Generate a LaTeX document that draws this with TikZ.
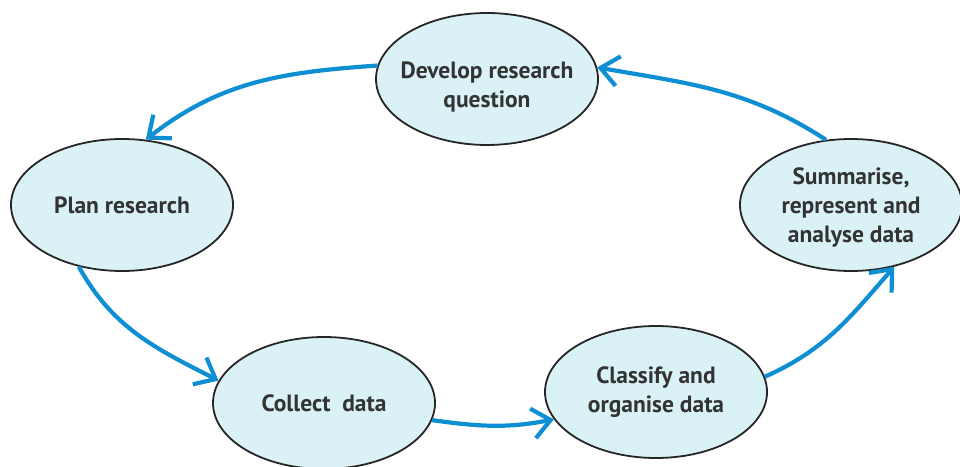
\documentclass[tikz,border=0pt]{standalone}
\usepackage{fontspec}
\setmainfont{PT Sans}
\usetikzlibrary{arrows.meta,shapes.geometric}
\definecolor{cyAccent}{HTML}{0E8FD3}
\definecolor{cyFill}{HTML}{DAF1F6}
\definecolor{cyText}{HTML}{333333}

\begin{document}
\begin{tikzpicture}[x=1pt,y=1pt,
  stage/.style={ellipse,draw=black!85,line width=1.8pt,fill=cyFill,
    minimum width=222pt,minimum height=132pt,inner sep=0pt},
  lbl/.style={font=\fontsize{23.5}{29}\selectfont\bfseries,text=cyText,align=center},
  ar/.style={-{Straight Barb[length=18pt,width=30pt]},draw=cyAccent,line width=4.2pt}
]
\useasboundingbox (0,0) rectangle (960,466);
\node[stage,label={[lbl,yshift=-8pt]center:Develop research\\question}] (dev) at (487,387) {};
\node[stage,label={[lbl]center:Plan research}] (plan) at (122,261) {};
\node[stage,label={[lbl,yshift=-3pt]center:Summarise,\\represent and\\analyse data}] (summ) at (851,261) {};
\node[stage,label={[lbl]center:Collect\ \ data}] (coll) at (324,63) {};
\node[stage,label={[lbl]center:Classify and\\organise data}] (clas) at (656,74) {};
% cycle
\draw[ar] (dev.173) to[out=184,in=38] (plan.70);
\draw[ar] (plan.235) to[out=299,in=153] (coll.168);
\draw[ar] (coll.351) to[out=-8,in=191] (clas.195);
\draw[ar] (clas.8) to[out=24,in=229] (summ.305);
\draw[ar] (summ.111) to[out=147,in=350] (dev.6);
\end{tikzpicture}
\end{document}
